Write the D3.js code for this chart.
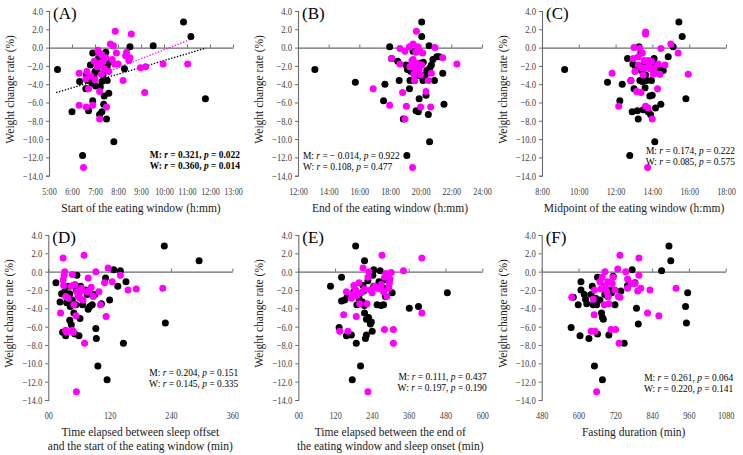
<!DOCTYPE html>
<html>
<head>
<meta charset="utf-8">
<script src="https://cdn.jsdelivr.net/npm/d3@7"></script>
<style>
  body { margin: 0; background: #fff; }
  svg { display: block; }
  text { font-family: "Liberation Serif", "Times New Roman", serif; }
</style>
</head>
<body>
<div id="chart"></div>
<script>
// ---- data ----
// weight change rate (%) on the y axis for every panel
var yTicks = [4, 2, 0, -2, -4, -6, -8, -10, -12, -14];

// (A) start of the eating window, hours
var startTicks = [5, 6, 7, 8, 9, 10, 11, 12, 13];
var startTickLabels = ["5:00", "6:00", "7:00", "8:00", "9:00", "10:00", "11:00", "12:00", "13:00"];
var startMen = [[5.37,-2.4],[6.0,-7.0],[6.33,-3.7],[6.46,-11.8],[6.6,-4.5],[6.72,-6.9],[6.9,-0.6],[6.9,-5.8],[6.8,-1.9],[6.95,-3.2],
  [7.03,-4.2],[7.1,-2.6],[7.16,-1.1],[7.2,-7.3],[7.3,-7.0],[7.38,-6.2],[7.4,-5.3],[7.3,-3.7],[7.47,-0.5],[7.5,-7.8],
  [7.53,-3.6],[7.6,-1.6],[7.6,-5.0],[7.82,-10.3],[8.28,-2.3],[8.52,0.1],[9.53,0.2],[10.85,2.8],[11.17,1.2],[11.8,-5.6],
  [6.68,-3.6],[6.62,-3.0],[7.23,-4.3],[7.0,-2.6],[7.23,-1.9],[7.35,-3.0],[7.45,-2.3],[7.53,-2.1],[6.68,-4.5],[6.87,-3.9]];
var startWomen = [[6.31,-2.8],[6.31,-6.3],[6.5,-13.1],[6.62,-6.5],[6.6,-3.4],[6.65,-2.6],[6.72,-4.5],[6.9,-6.3],[7.0,-3.5],[7.1,-2.1],
  [7.13,-0.3],[7.17,-0.6],[7.2,-4.8],[7.2,-7.8],[7.23,-1.7],[7.28,-2.9],[7.35,-1.5],[7.4,-2.3],[7.47,-1.1],[7.5,-6.5],
  [7.6,-2.6],[7.67,0.4],[7.75,-1.3],[7.8,0.2],[7.85,-1.8],[7.88,1.8],[7.93,-0.6],[8.0,-1.8],[8.22,-3.6],[8.33,-0.9],
  [8.37,-0.5],[8.47,-1.4],[8.52,-1.1],[8.58,1.5],[8.98,-2.2],[9.16,-4.9],[9.2,-2.1],[9.96,-1.8],[11.03,-1.8],[6.97,-1.5],
  [6.82,-3.1],[7.3,-0.8]];
var startTrendMen = [[5.31, -4.92], [11.83, -0.05]];
var startTrendWomen = [[6.33, -3.83], [11.1, 0.84]];

// (B) end of the eating window, hours
var endTicks = [12, 14, 16, 18, 20, 22, 24];
var endTickLabels = ["12:00", "14:00", "16:00", "18:00", "20:00", "22:00", "24:00"];
var endMen = [[13.1,-2.4],[15.74,-3.8],[17.58,-5.8],[17.67,-4.0],[17.98,0.1],[18.1,-1.2],[18.5,-1.5],[18.6,-3.6],[18.87,-7.8],[19.05,-1.9],
  [19.1,-11.8],[19.14,-2.4],[19.27,-4.5],[19.3,-3.6],[19.36,-2.6],[19.5,-0.4],[19.6,-3.6],[19.7,-6.9],[19.85,-7.0],[19.9,-5.6],
  [19.96,-1.7],[20.0,-3.1],[20.07,2.8],[20.07,1.2],[20.17,-1.6],[20.3,-3.0],[20.35,-5.2],[20.4,-2.5],[20.5,-7.3],[20.55,0.2],
  [20.58,-10.3],[20.6,-2.2],[20.7,-1.9],[20.8,-1.3],[20.9,-3.6],[21.05,-1.0],[21.2,-1.0],[21.44,-2.8],[21.52,-6.2],[19.77,-2.1],
  [19.87,-3.0],[20.15,-3.6]];
var endWomen = [[16.9,-4.5],[18.1,-1.2],[17.98,-6.3],[18.65,-0.1],[18.65,-1.8],[18.82,-4.9],[18.97,-0.4],[18.97,-7.8],[19.07,-6.4],[19.27,0.1],
  [19.43,-1.4],[19.43,-2.1],[19.47,-13.1],[19.5,0.4],[19.55,-2.9],[19.6,-3.6],[19.68,-0.5],[19.72,1.8],[19.76,-1.7],[19.8,0.1],
  [19.9,-2.4],[19.95,-0.4],[20.0,-3.0],[20.0,-6.5],[20.07,-1.9],[20.13,-0.6],[20.35,-4.8],[20.5,-3.6],[20.65,-6.5],[20.7,-2.8],
  [20.93,0.0],[21.44,-1.1],[22.36,-1.8],[19.5,-1.3],[19.6,-2.2],[19.3,-2.1]];

// (C) midpoint of the eating window, hours
var midTicks = [8, 10, 12, 14, 16, 18];
var midTickLabels = ["8:00", "10:00", "12:00", "14:00", "16:00", "18:00"];
var midMen = [[9.23,-2.4],[11.56,-3.8],[12.23,-5.8],[12.36,-4.0],[12.65,-1.2],[12.77,-11.8],[12.83,-3.6],[12.9,-7.0],[12.94,-1.8],[13.0,-4.5],
  [13.07,-2.0],[13.18,-6.9],[13.23,-7.8],[13.27,0.1],[13.32,-3.6],[13.38,-0.6],[13.4,-2.5],[13.45,-3.7],[13.5,-6.8],[13.55,-1.7],
  [13.63,-3.0],[13.68,-3.6],[13.77,-7.0],[13.86,-5.3],[13.95,-3.6],[13.99,-5.2],[13.9,-7.3],[14.09,-1.2],[14.13,-10.3],[14.17,-6.6],
  [14.28,-2.6],[14.35,-2.3],[14.46,-6.2],[14.59,-2.5],[14.86,-1.0],[15.13,0.1],[15.44,2.8],[15.62,1.2],[15.82,-5.6],[14.04,-1.7],
  [13.6,-4.4]];
var midWomen = [[11.81,-2.8],[12.17,-6.4],[12.83,-3.6],[12.96,-1.2],[13.0,0.0],[13.05,-2.6],[13.14,-4.8],[13.23,-1.0],[13.32,-0.1],[13.38,-4.9],
  [13.42,-2.2],[13.45,-0.6],[13.5,-3.0],[13.55,-1.4],[13.63,1.7],[13.63,1.5],[13.63,-6.4],[13.68,-2.2],[13.74,-13.1],[13.77,-6.6],
  [13.8,-1.7],[13.86,-2.3],[13.95,-1.5],[13.99,-7.8],[14.04,-2.9],[14.09,-2.2],[14.17,-2.8],[14.28,-4.5],[14.32,-1.8],[14.41,-2.9],
  [14.46,-0.1],[14.68,-1.9],[15.0,0.4],[15.4,-0.6],[15.95,-2.9],[13.77,-1.4],[13.23,-1.9]];

// (D) sleep offset -> start of eating window, min
var offsetTicks = [0, 120, 240, 360];
var offsetTickLabels = ["00", "120", "240", "360"];
var offsetMen = [[15,-1.2],[26,-2.4],[28,-6.6],[32,-2.2],[34,-7.0],[36,-3.4],[39,-1.6],[40,-2.8],[42,-5.3],[43,-3.8],
  [45,-5.8],[47,-3.1],[49,-1.5],[50,-4.5],[52,-6.8],[54,-3.6],[55,-2.0],[56,-0.4],[60,-7.0],[62,-5.1],
  [63,-1.6],[67,-3.6],[76,-2.5],[78,-4.1],[81,-3.8],[86,-3.6],[91,-2.5],[93,-6.2],[94,-7.3],[97,-10.3],
  [104,-3.5],[112,-0.7],[115,-11.8],[120,-3.1],[128,0.2],[136,-1.6],[141,0.1],[147,-7.8],[152,-1.1],[227,2.8],
  [229,-5.6],[295,1.2],[23,-3.3],[42,-2.4],[73,-2.0]];
var offsetWomen = [[24,-4.5],[29,1.5],[29,-0.9],[30,-1.5],[31,-0.4],[32,0.0],[34,-2.7],[34,-6.4],[36,-6.6],[39,-2.9],
  [45,-1.6],[47,-0.3],[47,-6.4],[49,-6.6],[50,-3.6],[52,-1.4],[54,-4.8],[55,-13.1],[56,-2.2],[58,-2.7],
  [62,-2.9],[65,-1.8],[68,-3.1],[70,1.8],[71,-7.8],[76,-2.2],[78,-0.7],[81,-2.0],[84,-1.7],[88,-2.7],
  [93,0.0],[99,-2.2],[102,-3.6],[110,-1.2],[113,-4.9],[117,0.4],[125,-1.1],[141,-0.4],[156,-2.0],[172,-1.9],
  [224,-1.8],[62,-2.2]];

// (E) end of eating window -> sleep onset, min
var onsetTicks = [0, 120, 240, 360, 480, 600];
var onsetTickLabels = ["00", "120", "240", "360", "480", "600"];
var onsetMen = [[105,-1.6],[141,-0.6],[141,-3.2],[133,-6.1],[151,-3.1],[157,-7.0],[159,-2.8],[173,-6.9],[176,-11.8],[181,-2.2],
  [187,2.8],[189,-7.8],[191,-3.6],[195,-2.5],[198,-2.9],[203,-10.3],[209,-3.3],[211,-1.5],[213,-2.1],[215,-3.7],
  [216,-4.5],[216,1.2],[219,-7.3],[222,-6.9],[222,-5.2],[227,-1.0],[229,-5.0],[235,-5.7],[238,-5.5],[241,-6.5],
  [243,-0.4],[246,0.2],[246,-1.6],[257,-3.6],[263,-1.1],[267,0.1],[270,-3.7],[278,-3.6],[281,-1.8],[284,-2.7],
  [306,-2.3],[362,-4.0],[392,-3.8],[486,-2.3],[281,-0.9]];
var onsetWomen = [[135,-6.5],[148,-4.7],[157,-2.2],[162,-6.5],[173,-2.9],[178,-2.5],[181,-1.5],[187,-2.0],[189,-4.9],[191,-2.6],
  [198,-1.2],[200,-3.5],[205,-2.3],[211,0.4],[216,-1.9],[224,-3.5],[227,-0.6],[227,-13.1],[230,0.0],[235,-2.0],
  [241,-2.3],[249,-1.6],[259,-1.8],[270,-1.9],[273,1.8],[278,-2.2],[281,-0.6],[281,-6.3],[286,-0.2],[289,-2.7],
  [295,-1.8],[299,-0.8],[303,-0.1],[310,-6.3],[310,-7.8],[343,0.1],[403,1.5],[403,-4.5],[270,-1.4],[297,-1.3]];

// (F) fasting duration, min
var fastTicks = [480, 600, 720, 840, 960, 1080];
var fastTickLabels = ["480", "600", "720", "840", "960", "1080"];
var fastMen = [[576,-6.1],[583,-2.8],[599,-3.6],[605,-7.0],[608,-1.1],[608,-2.0],[619,-2.5],[623,-3.0],[627,-3.5],[634,-7.3],
  [641,-2.5],[645,-1.6],[648,-3.6],[652,-10.3],[656,-2.9],[659,-3.6],[662,-0.6],[662,-6.8],[670,-3.1],[675,-4.5],
  [678,-11.8],[678,-5.0],[681,-5.2],[684,-1.6],[686,-2.5],[692,-2.2],[695,-2.7],[699,-6.9],[703,-2.0],[708,-2.3],
  [713,-0.5],[719,-3.6],[738,-2.1],[749,-7.8],[760,-1.5],[775,0.2],[784,-1.2],[789,-4.0],[795,-5.7],[871,0.1],
  [895,2.8],[901,1.2],[949,-3.8],[956,-2.3],[952,-5.6]];
var fastWomen = [[578,-2.8],[652,-2.0],[648,-3.0],[651,-4.7],[641,-6.5],[654,-6.5],[659,-13.1],[670,-1.1],[673,-1.9],[677,-0.6],
  [681,-1.8],[684,-3.6],[686,0.0],[688,-1.6],[692,-2.2],[697,-2.7],[699,-3.5],[706,-6.3],[710,-1.3],[713,-0.6],
  [719,-2.0],[721,-6.3],[728,0.3],[730,-2.7],[732,-7.8],[735,1.8],[735,-2.8],[754,0.0],[760,-0.8],[760,-1.8],
  [773,-1.3],[784,-1.3],[793,-2.1],[797,1.5],[797,-0.4],[803,-1.8],[833,-2.0],[825,-4.5],[862,-4.8],[918,-1.8],
  [695,-1.1]];

// correlation annotations: [r, p] for men and women
var statsA = [["0.321", "0.022"], ["0.360", "0.014"]];
var statsB = [["\u2212 0.014", "0.922"], ["0.108", "0.477"]];
var statsC = [["0.174", "0.222"], ["0.085", "0.575"]];
var statsD = [["0.204", "0.151"], ["0.145", "0.335"]];
var statsE = [["0.111", "0.437"], ["0.197", "0.190"]];
var statsF = [["0.261", "0.064"], ["0.220", "0.141"]];

// ---- layout ----
var width = 743, height = 455;
var plotW = 184;
var svg = d3.select("#chart").append("svg")
    .attr("width", width)
    .attr("height", height);

var panels = [
  {tag: "(A)", x0: 49, top: 11, bottom: 175.7, ticks: startTicks, labels: startTickLabels, men: startMen, women: startWomen,
   title: ["Start of the eating window (h:mm)"], stats: statsA, bold: true, anchor: "end", sx: 191, sy: 147,
   trends: [startTrendMen, startTrendWomen]},
  {tag: "(B)", x0: 298, top: 11, bottom: 175.7, ticks: endTicks, labels: endTickLabels, men: endMen, women: endWomen,
   title: ["End of the eating window (h:mm)"], stats: statsB, anchor: "start", sx: 5, sy: 148.5},
  {tag: "(C)", x0: 542, top: 11, bottom: 175.7, ticks: midTicks, labels: midTickLabels, men: midMen, women: midWomen,
   title: ["Midpoint of the eating window (h:mm)"], stats: statsC, anchor: "end", sx: 193, sy: 143.5},
  {tag: "(D)", x0: 48.3, top: 235, bottom: 400, ticks: offsetTicks, labels: offsetTickLabels, men: offsetMen, women: offsetWomen,
   title: ["Time elapsed between sleep offset", "and the start of the eating window (min)"], stats: statsD, anchor: "end", sx: 190, sy: 141.5},
  {tag: "(E)", x0: 298.3, top: 235, bottom: 400, ticks: onsetTicks, labels: onsetTickLabels, men: onsetMen, women: onsetWomen,
   title: ["Time elapsed between the end of", "the eating window and sleep onset (min)"], stats: statsE, anchor: "end", sx: 188.5, sy: 145},
  {tag: "(F)", x0: 541.7, top: 235, bottom: 400, ticks: fastTicks, labels: fastTickLabels, men: fastMen, women: fastWomen,
   title: ["Fasting duration (min)"], stats: statsF, anchor: "end", sx: 191.5, sy: 146}
];

var axisColor = "#6b6b6b";
var tickColor = "#404040";

// tick labels in the source are narrower than the type: squeeze them around their anchor
function squeeze(sel, k) {
    sel.each(function() {
        var x = +this.getAttribute("x") || 0;
        d3.select(this).attr("transform",
            "translate(" + x + ",0) scale(" + k + ",1) translate(" + (-x) + ",0)");
    });
}

panels.forEach(function(p) {
    var g = svg.append("g");
    var x = d3.scaleLinear()
        .domain([p.ticks[0], p.ticks[p.ticks.length - 1]])
        .range([p.x0, p.x0 + plotW]);
    var y = d3.scaleLinear()
        .domain([-14, 4])
        .range([p.bottom, p.top]);

    // y axis
    var yAxis = g.append("g")
        .attr("transform", "translate(" + p.x0 + ",0)")
        .call(d3.axisLeft(y).tickValues(yTicks).tickSize(3).tickPadding(3)
            .tickFormat(d3.format(".1f")));
    yAxis.select(".domain").attr("stroke", axisColor).attr("stroke-width", 1.1);
    yAxis.selectAll(".tick line").attr("stroke", axisColor);
    yAxis.selectAll("text").attr("fill", tickColor).style("font-size", "10.5px")
        .call(squeeze, 0.82);

    // horizontal axis line at zero with small ticks pointing up
    var zAxis = g.append("g")
        .attr("transform", "translate(0," + y(0) + ")")
        .call(d3.axisTop(x).tickValues(p.ticks).tickSize(3).tickSizeOuter(0).tickFormat(""));
    zAxis.select(".domain").attr("stroke", axisColor).attr("stroke-width", 1.1);
    zAxis.selectAll(".tick line").attr("stroke", axisColor);

    // tick labels below the plot area
    var xAxis = g.append("g")
        .attr("transform", "translate(0," + (p.bottom + 9) + ")")
        .call(d3.axisBottom(x).tickValues(p.ticks).tickSize(0)
            .tickFormat(function(d, i) { return p.labels[i]; }));
    xAxis.select(".domain").remove();
    xAxis.selectAll("text").attr("fill", tickColor).style("font-size", "10.5px")
        .call(squeeze, 0.78);

    // trend lines
    if (p.trends) {
        var line = d3.line().x(function(d) { return x(d[0]); }).y(function(d) { return y(d[1]); });
        ["#000", "#ff00ff"].forEach(function(c, i) {
            g.append("path")
                .attr("d", line(p.trends[i]))
                .attr("fill", "none")
                .attr("stroke", c)
                .attr("stroke-width", 1.3)
                .attr("stroke-dasharray", "1.4,1.6");
        });
    }

    // points: men black, women magenta
    g.selectAll("circle.m").data(p.men).enter()
        .append("circle")
        .attr("class", "m")
        .attr("cx", function(d) { return x(d[0]); })
        .attr("cy", function(d) { return y(d[1]); })
        .attr("r", 3.5)
        .attr("fill", "#000");
    g.selectAll("circle.w").data(p.women).enter()
        .append("circle")
        .attr("class", "w")
        .attr("cx", function(d) { return x(d[0]); })
        .attr("cy", function(d) { return y(d[1]); })
        .attr("r", 3.5)
        .attr("fill", "#ff00ff");

    // panel tag
    g.append("text")
        .attr("x", p.x0 + 4)
        .attr("y", p.top + 8)
        .attr("font-size", "17px")
        .attr("fill", "#000")
        .text(p.tag);

    // y title
    var cy = (p.top + p.bottom) / 2 - 4;
    g.append("text")
        .attr("transform", "translate(" + (p.x0 - 35) + "," + cy + ") rotate(-90)")
        .attr("text-anchor", "middle")
        .attr("font-size", "11.5px")
        .attr("fill", "#1a1a1a")
        .text("Weight change rate (%)");

    // x title
    p.title.forEach(function(t, i) {
        g.append("text")
            .attr("x", p.x0 + plotW / 2)
            .attr("y", p.bottom + 36 + i * 14)
            .attr("text-anchor", "middle")
            .attr("font-size", "11.5px")
            .attr("fill", "#1a1a1a")
            .text(t);
    });

    // stats
    ["M", "W"].forEach(function(s, i) {
        var t = g.append("text")
            .attr("x", p.x0 + p.sx)
            .attr("y", p.top + p.sy + i * 11)
            .attr("text-anchor", p.anchor)
            .attr("font-size", "10.5px")
            .attr("font-weight", p.bold ? "bold" : "normal")
            .attr("fill", "#000");
        t.append("tspan").text(s + ": ");
        t.append("tspan").attr("font-style", "italic").text("r");
        t.append("tspan").text(" = " + p.stats[i][0] + ", ");
        t.append("tspan").attr("font-style", "italic").text("p");
        t.append("tspan").text(" = " + p.stats[i][1]);
        t.call(squeeze, 0.9);
    });
});
</script>
</body>
</html>
